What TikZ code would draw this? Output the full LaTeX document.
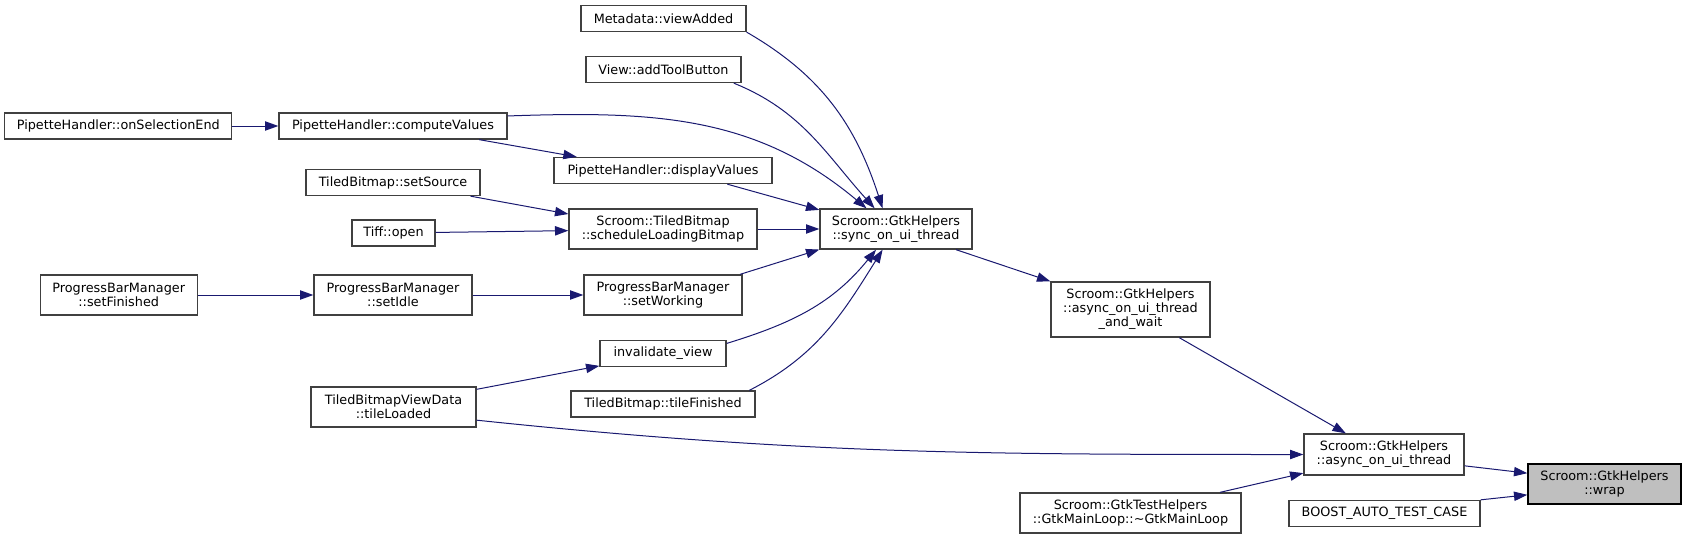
\documentclass[tikz,border=0pt]{standalone}
\usepackage{fontspec}
\setmainfont{DejaVu Sans}
\usepackage{xcolor}
\usepackage{tikz}
\usetikzlibrary{arrows.meta,positioning,calc}

\definecolor{midnight}{HTML}{191970}

\begin{document}
\begin{tikzpicture}[
  x=0.75pt, y=-0.75pt,
  font=\fontsize{9.6pt}{10.5pt}\selectfont,
  every node/.style={align=center},
  arr/.style={-{Triangle[length=10pt,width=7pt]}, draw=midnight, line width=0.75pt},
  fnbox/.style 2 args={rectangle, draw=black!75, fill=white, line width=1pt, inner sep=0pt, minimum width=#1*0.75pt, minimum height=#2*0.75pt},
  rootbox/.style 2 args={fnbox={#1}{#2}, draw=black, fill=black!25}
]
  \useasboundingbox (0,0) rectangle (1685,539);

  % Leftmost callers
  \node[fnbox={227}{26}] (onselend) at (118.3,126) {PipetteHandler::onSelectionEnd};
  \node[fnbox={157}{40}] (setfinished) at (118.7,295) {ProgressBarManager\\::setFinished};

  % Second column
  \node[fnbox={228}{26}] (computevals) at (393,126) {PipetteHandler::computeValues};
  \node[fnbox={174}{26}] (setsource) at (393,182.5) {TiledBitmap::setSource};
  \node[fnbox={83}{26}] (tiffopen) at (393.5,233) {Tiff::open};
  \node[fnbox={158}{40}] (setidle) at (393,295) {ProgressBarManager\\::setIdle};
  \node[fnbox={165}{40}] (tileloaded) at (393.5,407) {TiledBitmapViewData\\::tileLoaded};

  % Third column
  \node[fnbox={165}{26}] (viewadded) at (663.5,18.5) {Metadata::viewAdded};
  \node[fnbox={155}{26}] (addtoolbtn) at (663.5,69.5) {View::addToolButton};
  \node[fnbox={218}{26}] (displayvals) at (663,170.5) {PipetteHandler::displayValues};
  \node[fnbox={188}{40}] (schedload) at (663,229) {Scroom::TiledBitmap\\::scheduleLoadingBitmap};
  \node[fnbox={158}{40}] (setworking) at (663,295) {ProgressBarManager\\::setWorking};
  \node[fnbox={126}{26}] (invview) at (663,353.5) {invalidate\_view};
  \node[fnbox={184}{26}] (tilefinished) at (663,404) {TiledBitmap::tileFinished};

  % Helpers
  \node[fnbox={152}{40}] (sync) at (896,229) {Scroom::GtkHelpers\\::sync\_on\_ui\_thread};
  \node[fnbox={159}{55}] (asyncwait) at (1130.5,309.5) {Scroom::GtkHelpers\\::async\_on\_ui\_thread\\\_and\_wait};
  \node[fnbox={221}{40}] (mainloop) at (1130.5,513) {Scroom::GtkTestHelpers\\::GtkMainLoop::\textasciitilde GtkMainLoop};
  \node[fnbox={160}{41}] (async) at (1384,454.5) {Scroom::GtkHelpers\\::async\_on\_ui\_thread};
  \node[fnbox={191}{26}] (boost) at (1384.5,513.5) {BOOST\_AUTO\_TEST\_CASE};

  % Root
  \node[rootbox={153}{40}] (wrap) at (1604.5,484) {Scroom::GtkHelpers\\::wrap};

  % Connecting Arrows
  \draw[arr] (onselend) -- (computevals);
  \draw[arr] (computevals.351) -- (displayvals.171);
  \draw[arr] (computevals.5) to[out=2,in=140] (sync.145);
  \draw[arr] (setsource.350) -- (schedload.171);
  \draw[arr] (tiffopen) -- (schedload.181);
  \draw[arr] (setfinished) -- (setidle);
  \draw[arr] (setidle) -- (setworking);
  \draw[arr] (tileloaded.12) -- (invview.191);
  \draw[arr] (tileloaded.351) to[out=-6,in=180] (async);
  \draw[arr] (viewadded.south east) to[out=-30,in=108] (sync.123);
  \draw[arr] (addtoolbtn.349) to[out=-22,in=132] (sync.136);
  \draw[arr] (displayvals.348) -- (sync.166);
  \draw[arr] (schedload) -- (sync);
  \draw[arr] (setworking.15) -- (sync.195);
  \draw[arr] (invview.9) to[out=17,in=231] (sync.226);
  \draw[arr] (tilefinished.9) to[out=27,in=238] (sync.237);
  \draw[arr] (sync.341) -- (asyncwait.north west);
  \draw[arr] (asyncwait.330) -- (async.151);
  \draw[arr] (mainloop.13) -- (async.193);
  \draw[arr] (async.352) -- (wrap.172);
  \draw[arr] (boost.north east) -- (wrap.188);

\end{tikzpicture}
\end{document}
